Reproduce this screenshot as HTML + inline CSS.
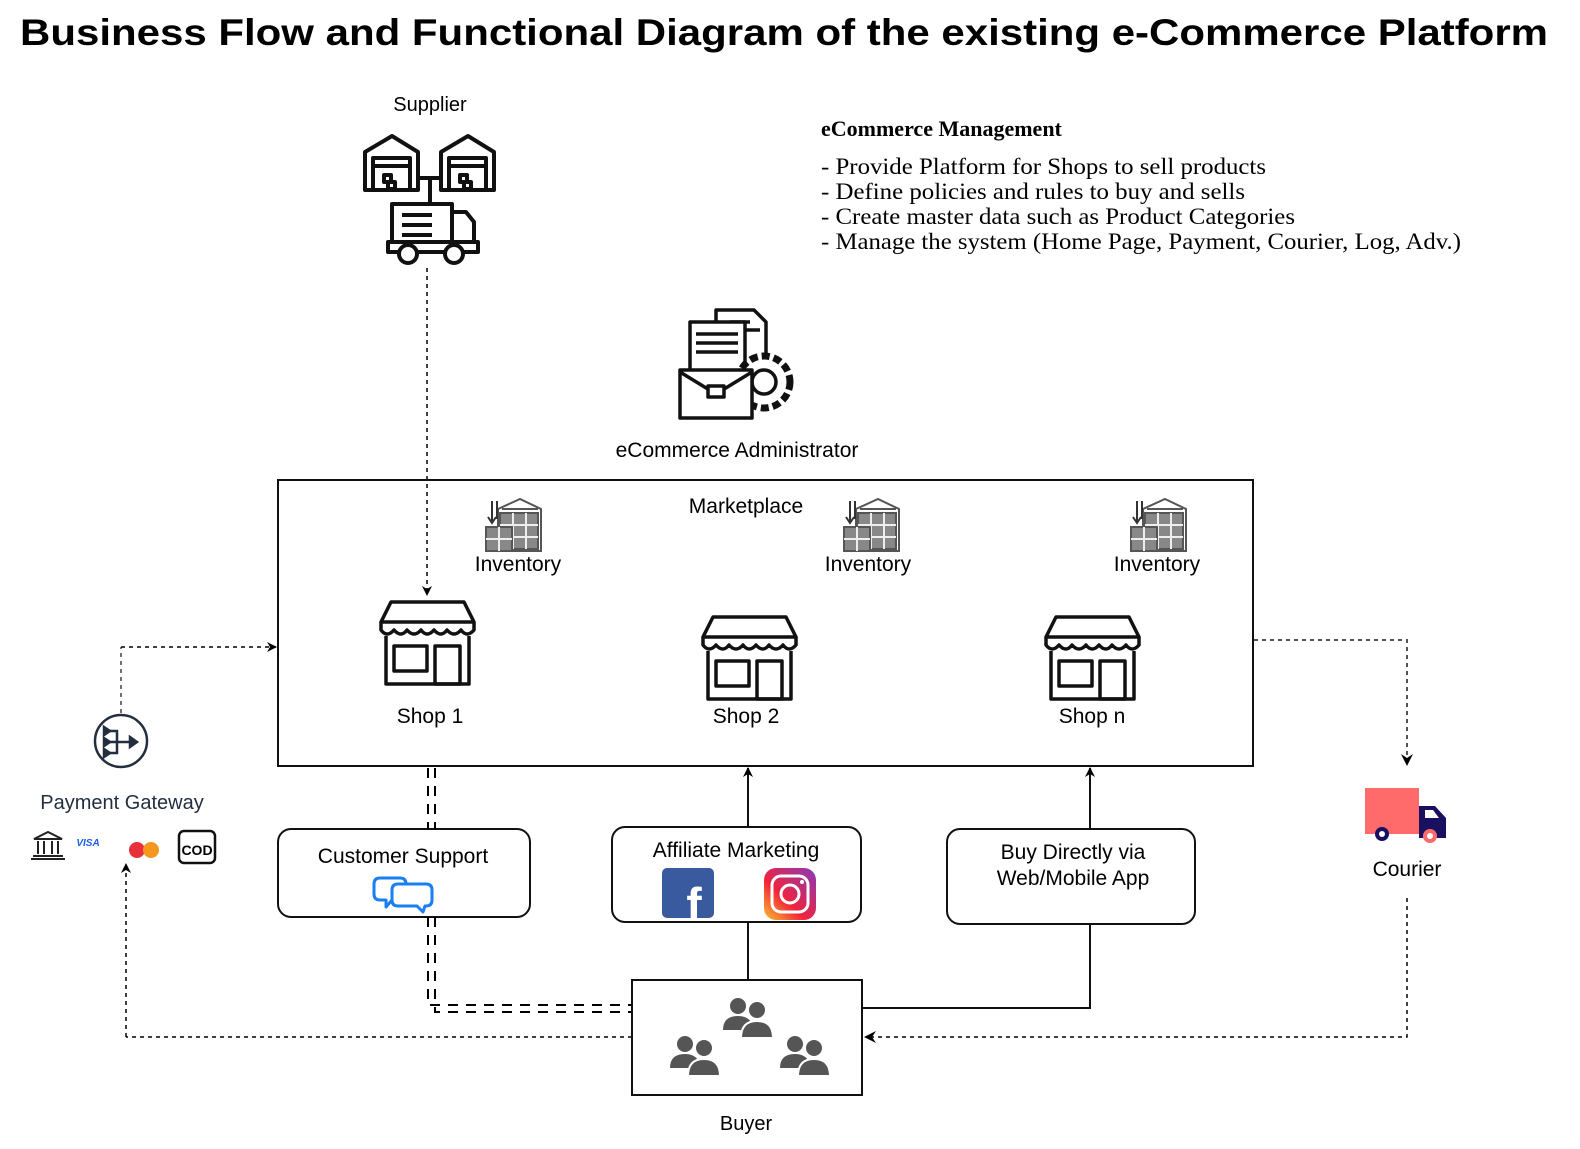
<!DOCTYPE html>
<html><head><meta charset="utf-8"><style>
html,body{margin:0;padding:0;background:#fff;}
svg{display:block;}
text{font-family:"Liberation Sans",sans-serif;}
.s{font-family:"Liberation Serif",serif;}
</style></head><body>
<svg width="1580" height="1149" viewBox="0 0 1580 1149" xmlns="http://www.w3.org/2000/svg">
<defs>
<marker id="ar" markerWidth="10" markerHeight="10" refX="9" refY="5" orient="auto" markerUnits="userSpaceOnUse">
<path d="M0,0 L10,5 L0,10 L3,5 Z" fill="#000"/></marker>
<g id="shop" fill="none" stroke="#111" stroke-width="3.5" stroke-linejoin="round">
<path d="M10,2 H83 L93,22 H0 Z"/>
<path d="M0,22 V30 Q6,38 13,30 Q20,38 26,30 Q33,38 40,30 Q46,38 53,30 Q60,38 66,30 Q73,38 80,30 Q86,38 93,30 V22"/>
<path d="M5,36 V84 H88 V36"/>
<rect x="13" y="46" width="33" height="25"/>
<rect x="54" y="46" width="25" height="38"/>
</g>
<g id="inv" fill="none" stroke="#555" stroke-width="2">
<path d="M14,12 L36,2 L57,12 V54 H14 Z" fill="#fff"/>
<path d="M18,12 H54"/>
<rect x="16" y="16" width="38" height="36" fill="#888" stroke="#555"/>
<path d="M16,28 H54 M16,40 H54 M29,16 V52 M42,16 V52" stroke="#eee"/>
<path d="M2,30 H28 V54 H2 Z" fill="#888" stroke="#555"/>
<path d="M2,42 H28 M15,30 V54" stroke="#eee"/>
<path d="M8,4 V24 M4,20 L8,26 L12,20 M13,4 V22" stroke="#333"/>
</g>
<g id="ppl" fill="#555">
<circle cx="17" cy="10" r="8"/><path d="M2,34 Q2,20 17,20 Q26,20 30,26 V34 Z"/>
<circle cx="36" cy="14" r="9" stroke="#fff" stroke-width="2"/><path d="M20,42 Q20,25 36,25 Q52,25 52,42 Z" stroke="#fff" stroke-width="2"/>
</g>
</defs>

<text x="20" y="45" font-size="37" font-weight="bold" textLength="1528" lengthAdjust="spacingAndGlyphs">Business Flow and Functional Diagram of the existing e-Commerce Platform</text>

<!-- Supplier -->
<text x="430" y="111" font-size="20" text-anchor="middle">Supplier</text>
<g fill="none" stroke="#111" stroke-width="4" stroke-linejoin="round">
<path d="M365,190 V152 L392,136 L418,152 V190 Z"/><path d="M373,190 V158 H410 V190"/><path d="M373,166 H410"/>
<rect x="384" y="175" width="7" height="7"/><rect x="388" y="182" width="7" height="7"/>
<path d="M441,190 V152 L468,136 L494,152 V190 Z"/><path d="M449,190 V158 H486 V190"/><path d="M449,166 H486"/>
<rect x="460" y="175" width="7" height="7"/><rect x="464" y="182" width="7" height="7"/>
<path d="M418,178 H441 M430,178 V202"/>
<path d="M392,242 V204 H452 V242"/><path d="M452,212 H466 L474,222 V242"/>
<path d="M402,215 H432 M402,225 H432 M402,235 H432"/>
<path d="M388,242 H478 V252 H388 Z"/>
<circle cx="408" cy="254" r="9" fill="#fff"/><circle cx="454" cy="254" r="9" fill="#fff"/>
</g>
<line x1="427" y1="268" x2="427" y2="595" stroke="#000" stroke-width="1.5" stroke-dasharray="4,4" marker-end="url(#ar)"/>

<!-- Management text -->
<text class="s" x="821" y="136" font-size="22" font-weight="bold">eCommerce Management</text>
<text class="s" x="821" y="174" font-size="23" textLength="445" lengthAdjust="spacingAndGlyphs">- Provide Platform for Shops to sell products</text>
<text class="s" x="821" y="199" font-size="23" textLength="424" lengthAdjust="spacingAndGlyphs">- Define policies and rules to buy and sells</text>
<text class="s" x="821" y="224" font-size="23" textLength="474" lengthAdjust="spacingAndGlyphs">- Create master data such as Product Categories</text>
<text class="s" x="821" y="249" font-size="23" textLength="640" lengthAdjust="spacingAndGlyphs">- Manage the system (Home Page, Payment, Courier, Log, Adv.)</text>

<!-- Admin icon -->
<g fill="#fff" stroke="#111" stroke-width="3.5" stroke-linejoin="round">
<path d="M716,310 H754 L766,322 V370 H716 Z"/>
<path d="M730,322 H750 M730,330 H760" />
<path d="M690,322 H745 V375 H690 Z"/>
<path d="M696,334 H738 M696,343 H738 M696,352 H738"/>
<circle cx="764" cy="382" r="26" stroke-dasharray="8,4" stroke-width="7"/>
<circle cx="764" cy="382" r="12"/>
<path d="M680,370 H752 V418 H680 Z"/>
<path d="M680,372 L716,394 L752,372"/>
<rect x="708" y="386" width="16" height="11"/>
</g>
<text x="737" y="457" font-size="21" text-anchor="middle">eCommerce Administrator</text>

<!-- Marketplace -->
<rect x="278" y="480" width="975" height="286" fill="none" stroke="#111" stroke-width="2"/>
<text x="746" y="513" font-size="21" text-anchor="middle">Marketplace</text>
<use href="#inv" x="484" y="497"/><use href="#inv" x="842" y="497"/><use href="#inv" x="1129" y="497"/>
<text x="518" y="571" font-size="21" text-anchor="middle">Inventory</text>
<text x="868" y="571" font-size="21" text-anchor="middle">Inventory</text>
<text x="1157" y="571" font-size="21" text-anchor="middle">Inventory</text>
<use href="#shop" x="381" y="600"/><use href="#shop" x="703" y="615"/><use href="#shop" x="1046" y="615"/>
<text x="430" y="723" font-size="21" text-anchor="middle">Shop 1</text>
<text x="746" y="723" font-size="21" text-anchor="middle">Shop 2</text>
<text x="1092" y="723" font-size="21" text-anchor="middle">Shop n</text>

<!-- Payment gateway -->
<line x1="121" y1="713" x2="121" y2="647" stroke="#444" stroke-width="1.5" stroke-dasharray="4,4"/>
<line x1="121" y1="647" x2="276" y2="647" stroke="#000" stroke-width="1.5" stroke-dasharray="4,4" marker-end="url(#ar)"/>
<g fill="none" stroke="#232f3e" stroke-width="2.5">
<circle cx="121" cy="741" r="26"/>
<path d="M107,731 H117 V753 H107 M107,742 H134"/>
<path d="M104,727 L110,731 L104,735 Z M104,738 L110,742 L104,746 Z M104,749 L110,753 L104,757 Z M130,737 L137,742 L130,747 Z" fill="#232f3e"/>
</g>
<text x="122" y="809" font-size="20" text-anchor="middle" fill="#232f3e">Payment Gateway</text>
<g stroke="#222" stroke-width="2" fill="none">
<path d="M34,839 L48,832 L62,839 Z"/><path d="M38,841 V854 M44,841 V854 M52,841 V854 M58,841 V854"/><path d="M33,856 H63 M31,859 H65"/>
</g>
<text x="88" y="846" font-size="10" font-weight="bold" font-style="italic" fill="#1a5ee6" text-anchor="middle">VISA</text>
<circle cx="137" cy="850" r="8" fill="#e8303a"/><circle cx="151" cy="850" r="8" fill="#f6961f"/>
<rect x="179" y="831" width="36" height="32" rx="5" fill="none" stroke="#111" stroke-width="2.5"/>
<text x="197" y="855" font-size="14" font-weight="bold" text-anchor="middle">COD</text>
<line x1="632" y1="1037" x2="126" y2="1037" stroke="#000" stroke-width="1.5" stroke-dasharray="4,4"/>
<line x1="126" y1="1037" x2="126" y2="864" stroke="#000" stroke-width="1.5" stroke-dasharray="4,4" marker-end="url(#ar)"/>

<!-- Customer support -->
<rect x="278" y="829" width="252" height="88" rx="13" fill="none" stroke="#111" stroke-width="2"/>
<text x="403" y="863" font-size="21" text-anchor="middle">Customer Support</text>
<g fill="#fff" stroke="#1a7ff0" stroke-width="3" stroke-linejoin="round">
<path d="M380,878 H400 Q406,878 406,884 V894 Q406,900 400,900 H392 L386,907 V900 H380 Q374,900 374,894 V884 Q374,878 380,878 Z"/>
<path d="M398,884 H426 Q432,884 432,890 V900 Q432,906 426,906 H425 L423,912 L417,906 H398 Q392,906 392,900 V890 Q392,884 398,884 Z"/>
</g>
<g stroke="#000" stroke-width="2" stroke-dasharray="10,8" fill="none">
<path d="M428,768 V829 M435,768 V829"/>
<path d="M428,917 V1005 H632 M435,917 V1012 H632"/>
</g>

<!-- Affiliate -->
<rect x="612" y="827" width="249" height="95" rx="13" fill="none" stroke="#111" stroke-width="2"/>
<text x="736" y="857" font-size="21" text-anchor="middle">Affiliate Marketing</text>
<rect x="662" y="868" width="52" height="50" rx="5" fill="#3a5aa0"/>
<text x="694" y="920" font-size="46" font-weight="bold" fill="#fff" text-anchor="middle">f</text>
<defs><linearGradient id="ig" x1="0" y1="1" x2="1" y2="0"><stop offset="0" stop-color="#fbc02d"/><stop offset="0.4" stop-color="#f0233c"/><stop offset="1" stop-color="#8a3ab9"/></linearGradient></defs>
<rect x="764" y="868" width="52" height="52" rx="12" fill="url(#ig)"/>
<rect x="772" y="876" width="36" height="36" rx="9" fill="none" stroke="#fff" stroke-width="3"/>
<circle cx="790" cy="894" r="9" fill="none" stroke="#fff" stroke-width="3"/><circle cx="802" cy="882" r="2" fill="#fff"/>
<line x1="748" y1="980" x2="748" y2="922" stroke="#111" stroke-width="2"/>
<line x1="748" y1="827" x2="748" y2="768" stroke="#111" stroke-width="2" marker-end="url(#ar)"/>

<!-- Buy directly -->
<rect x="947" y="829" width="248" height="95" rx="13" fill="none" stroke="#111" stroke-width="2"/>
<text x="1073" y="859" font-size="21" text-anchor="middle">Buy Directly via</text>
<text x="1073" y="885" font-size="21" text-anchor="middle">Web/Mobile App</text>
<path d="M862,1008 H1090 V924" fill="none" stroke="#111" stroke-width="2"/>
<line x1="1090" y1="829" x2="1090" y2="768" stroke="#111" stroke-width="2" marker-end="url(#ar)"/>

<!-- Buyer -->
<rect x="632" y="980" width="230" height="115" fill="none" stroke="#111" stroke-width="2"/>
<use href="#ppl" x="721" y="996"/><use href="#ppl" x="668" y="1034"/><use href="#ppl" x="778" y="1034"/>
<text x="746" y="1130" font-size="20" text-anchor="middle">Buyer</text>

<!-- Courier -->
<path d="M1254,640 H1407 V755" fill="none" stroke="#555" stroke-width="2" stroke-dasharray="4,4"/>
<path d="M1401,754 L1407,766 L1413,754 L1407,758 Z" fill="#000"/>
<rect x="1365" y="788" width="54" height="46" fill="#ff6b6b"/>
<path d="M1419,806 H1435 L1446,818 V838 H1419 Z" fill="#1a1060"/>
<path d="M1425,810 H1433 L1439,818 H1425 Z" fill="#fff"/>
<circle cx="1382" cy="834" r="7" fill="#1a1060"/><circle cx="1382" cy="834" r="3" fill="#fff"/>
<circle cx="1430" cy="836" r="7" fill="#ff6b6b"/><circle cx="1430" cy="836" r="3" fill="#fff"/>
<text x="1407" y="876" font-size="21" text-anchor="middle">Courier</text>
<path d="M1407,898 V1037 H866" fill="none" stroke="#000" stroke-width="1.5" stroke-dasharray="4,4"/>
<path d="M864,1037 L876,1031 L872,1037 L876,1043 Z" fill="#000"/>
</svg>
</body></html>
